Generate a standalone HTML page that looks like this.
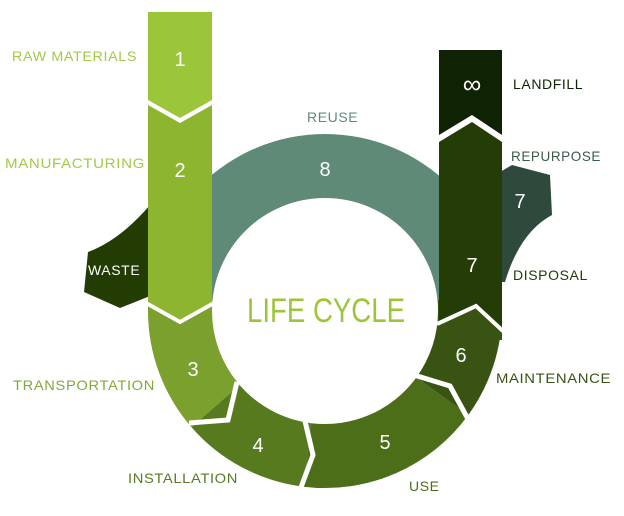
<!DOCTYPE html>
<html><head><meta charset="utf-8"><style>
body{margin:0;background:#fff}
svg{display:block}
text{font-family:"Liberation Sans",sans-serif}
</style></head><body>
<svg width="624" height="516" viewBox="0 0 624 516" xmlns="http://www.w3.org/2000/svg">
<path d="M150,205 Q120,240 88,252 L84,292 L120,308 L150,296 Z" fill="#223c04"/>
<path d="M500,172 L512,165 L550,175 L552,215 Q520,232 505,282 L500,282 Z" fill="#2d4a3c"/>
<path d="M148,311 A177,177 0 0 1 502,311 L438,311 A113,113 0 0 0 212,311 Z" fill="#5f8a77"/>
<rect x="148" y="292" width="64" height="20" fill="#7ba02d"/>
<path d="M148,311 A177,177 0 0 0 191.4,427.1 L239.7,385.1 A113,113 0 0 1 212,311 Z" fill="#7ba02d"/>
<path d="M191.4,427.1 A177,177 0 0 0 303.4,486.7 L311.2,423.2 A113,113 0 0 1 239.7,385.1 Z" fill="#587a1e"/>
<path d="M303.4,486.7 A177,177 0 0 0 468.2,415.1 L416.4,377.4 A113,113 0 0 1 311.2,423.2 Z" fill="#4d6e19"/>
<rect x="438" y="300" width="64" height="40" fill="#385312"/>
<path d="M468.2,415.1 A177,177 0 0 0 502,311 L438,311 A113,113 0 0 1 416.4,377.4 Z" fill="#385312"/>
<g fill="none" stroke="#fff" stroke-width="5" stroke-linejoin="miter">
<polyline points="189,423 228,420 237,382"/>
<polyline points="300,490 313,455 305,421"/>
<polyline points="468,419 450,386 414,375"/>
</g>
<path d="M148,12 L212,12 L212,100 L180,118 L148,100 Z" fill="#9cc63a"/>
<path d="M148,105 L180,123 L212,105 L212,303 L180,322 L148,303 Z" fill="#8db530"/>
<path d="M439,50 L502,50 L502,135 L472,115 L439,135 Z" fill="#0f2304"/>
<path d="M439,142 L472,122 L502,142 L502,330 L476,306 L439,324 Z" fill="#243d07"/>
<g fill="none" stroke="#fff" stroke-width="4" stroke-linejoin="miter">
<polyline points="146,303 180,322 214,303"/>
<polyline points="437,324 476,306 504,332"/>
</g>
<g fill="#fff" font-size="20" text-anchor="middle">
<text x="180" y="66">1</text>
<text x="180" y="177">2</text>
<text x="325" y="176">8</text>
<text x="193" y="376">3</text>
<text x="258" y="452">4</text>
<text x="385" y="449">5</text>
<text x="461" y="362">6</text>
<text x="472" y="272">7</text>
<text x="520" y="208">7</text>
<text x="472" y="93" font-size="26">∞</text>
</g>
<g font-size="14" letter-spacing="0.6">
<text x="12" y="61" fill="#a3c94a" textLength="125" lengthAdjust="spacingAndGlyphs">RAW MATERIALS</text>
<text x="5" y="168" fill="#a3c94a" textLength="140" lengthAdjust="spacingAndGlyphs">MANUFACTURING</text>
<text x="88" y="275" fill="#fff">WASTE</text>
<text x="13" y="390" fill="#86a83a" textLength="142" lengthAdjust="spacingAndGlyphs">TRANSPORTATION</text>
<text x="128" y="483" fill="#5a7a25" textLength="110" lengthAdjust="spacingAndGlyphs">INSTALLATION</text>
<text x="409" y="491" fill="#4d6e19">USE</text>
<text x="496" y="383" fill="#385312" textLength="115" lengthAdjust="spacingAndGlyphs">MAINTENANCE</text>
<text x="513" y="280" fill="#243d07">DISPOSAL</text>
<text x="511" y="161" fill="#3d5a4a" textLength="90" lengthAdjust="spacingAndGlyphs">REPURPOSE</text>
<text x="513" y="89" fill="#0f2304">LANDFILL</text>
<text x="307" y="122" fill="#5f8a77">REUSE</text>
</g>
<text x="247" y="322" font-size="34" fill="#9cc63a" textLength="158" lengthAdjust="spacingAndGlyphs">LIFE CYCLE</text>
</svg>
</body></html>
